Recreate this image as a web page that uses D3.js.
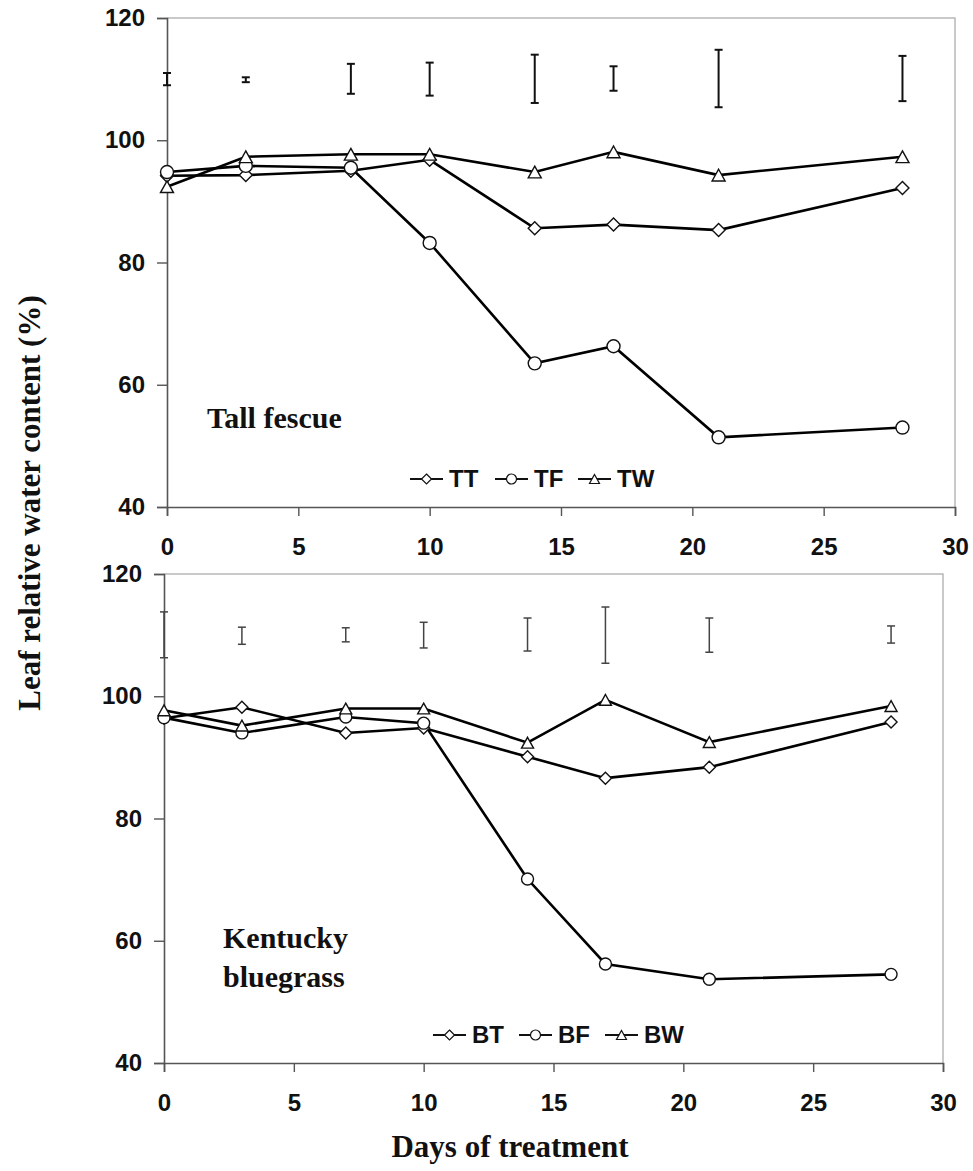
<!DOCTYPE html>
<html>
<head>
<meta charset="utf-8">
<script src="https://cdn.jsdelivr.net/npm/d3@7"></script>
<style>
  body { margin: 0; background: #fff; }
  svg { display: block; }
</style>
</head>
<body>
<div id="chart"></div>
<script>
// days of treatment
let days = [0, 3, 7, 10, 14, 17, 21, 28];

// tall fescue
let tallTT = [94.2, 94.3, 95.0, 96.8, 85.6, 86.2, 85.3, 92.2];
let tallTF = [94.8, 95.8, 95.5, 83.2, 63.5, 66.3, 51.4, 53.0];
let tallTW = [92.4, 97.3, 97.7, 97.7, 94.8, 98.1, 94.3, 97.3];
let tallErrHi = [111.0, 110.3, 112.5, 112.7, 114.0, 112.1, 114.8, 113.8];
let tallErrLo = [109.0, 109.5, 107.6, 107.3, 106.1, 108.1, 105.4, 106.4];

// kentucky bluegrass
let blueBT = [96.4, 98.2, 94.0, 94.8, 90.1, 86.6, 88.4, 95.8];
let blueBF = [96.5, 94.0, 96.6, 95.6, 70.1, 56.2, 53.7, 54.5];
let blueBW = [97.7, 95.2, 98.0, 98.0, 92.4, 99.4, 92.5, 98.4];
let blueErrHi = [113.8, 111.3, 111.2, 112.1, 112.8, 114.6, 112.8, 111.5];
let blueErrLo = [106.3, 108.5, 108.9, 107.9, 107.4, 105.4, 107.2, 108.7];

let xTicks = [0, 5, 10, 15, 20, 25, 30];
let yTicks = [40, 60, 80, 100, 120];

let width = 973, height = 1171;
let sansFont = '"Liberation Sans", Arial, sans-serif';
let serifFont = '"Liberation Serif", "Times New Roman", serif';

let svg = d3.select('#chart').append('svg')
    .attr('width', width)
    .attr('height', height);

function markerPath(shape, s) {
    if (shape == 'diamond') {
        return `M0,${-s}L${s},0L0,${s}L${-s},0Z`;
    } else if (shape == 'triangle') {
        let h = s * 1.8;
        return `M0,${-h / 2}L${s},${h / 2}L${-s},${h / 2}Z`;
    }
    return d3.symbol().type(d3.symbolCircle).size(Math.PI * s * s)();
}

function drawPanel(p) {
    let x = d3.scaleLinear().domain([0, 30]).range([p.left, p.right]);
    let y = d3.scaleLinear().domain([40, 120]).range([p.bottom, p.top]);
    let g = svg.append('g');

    // light frame top/right
    g.append('path')
        .attr('d', `M${p.left},${p.top}H${p.right}V${p.bottom}`)
        .attr('fill', 'none')
        .attr('stroke', '#b8b8b8')
        .attr('stroke-width', 1.5);

    let yAxis = g.append('g')
        .attr('transform', `translate(${p.left},0)`)
        .call(d3.axisLeft(y).tickValues(yTicks).tickSize(10).tickPadding(12));
    let xAxis = g.append('g')
        .attr('transform', `translate(0,${p.bottom})`)
        .call(d3.axisBottom(x).tickValues(xTicks).tickSize(9).tickPadding(22));
    [yAxis, xAxis].forEach(a => {
        a.select('.domain').attr('stroke', '#555').attr('stroke-width', 1.6);
        a.selectAll('.tick line').attr('stroke', '#555').attr('stroke-width', 1.4);
        a.selectAll('.tick text')
            .attr('fill', '#111')
            .style('font-family', sansFont)
            .style('font-weight', 'bold')
            .style('font-size', '24px');
    });

    // error bars
    let eb = g.selectAll('.errbar')
        .data(days.map((d, i) => [d, p.errLo[i], p.errHi[i]]))
        .enter().append('g')
        .attr('stroke', p.errColor)
        .attr('stroke-width', p.errWidth);
    eb.append('line')
        .attr('x1', d => x(d[0])).attr('x2', d => x(d[0]))
        .attr('y1', d => y(d[1])).attr('y2', d => y(d[2]));
    eb.append('line')
        .attr('x1', d => x(d[0]) - 4).attr('x2', d => x(d[0]) + 4)
        .attr('y1', d => y(d[1])).attr('y2', d => y(d[1]));
    eb.append('line')
        .attr('x1', d => x(d[0]) - 4).attr('x2', d => x(d[0]) + 4)
        .attr('y1', d => y(d[2])).attr('y2', d => y(d[2]));

    let line = d3.line().x((d, i) => x(days[i])).y(d => y(d));

    p.series.forEach(s => {
        g.append('path')
            .datum(s.values)
            .attr('d', line)
            .attr('fill', 'none')
            .attr('stroke', '#000')
            .attr('stroke-width', 2.6);
    });
    p.series.forEach(s => {
        g.selectAll('.m')
            .data(s.values)
            .enter().append('path')
            .attr('d', markerPath(s.shape, p.markerSize))
            .attr('transform', (d, i) => `translate(${x(days[i])},${y(d)})`)
            .attr('fill', '#fff')
            .attr('stroke', '#111')
            .attr('stroke-width', 1.4);
    });

    // panel label
    let lab = g.append('text')
        .attr('x', p.labelX)
        .attr('y', p.labelY)
        .style('font-family', serifFont)
        .style('font-weight', 'bold')
        .style('font-size', '30px')
        .attr('fill', '#111');
    p.label.forEach((t, i) => {
        lab.append('tspan').attr('x', p.labelX).attr('dy', i == 0 ? 0 : 39).text(t);
    });

    // legend
    let lg = g.selectAll('.legend')
        .data(p.series)
        .enter().append('g')
        .attr('transform', (d, i) => `translate(${p.legendX[i]},${p.legendY})`);
    lg.append('line')
        .attr('x1', 0).attr('x2', 33)
        .attr('y1', -8).attr('y2', -8)
        .attr('stroke', '#111')
        .attr('stroke-width', 1.8);
    lg.append('path')
        .attr('d', d => markerPath(d.shape, 5))
        .attr('transform', 'translate(16.5,-8)')
        .attr('fill', '#fff')
        .attr('stroke', '#111')
        .attr('stroke-width', 1.2);
    lg.append('text')
        .attr('x', 39)
        .attr('y', 0)
        .text(d => d.name)
        .style('font-family', sansFont)
        .style('font-weight', 'bold')
        .style('font-size', '24px')
        .attr('fill', '#111');
}

drawPanel({
    left: 167, right: 955, top: 18, bottom: 507,
    series: [
        {name: 'TT', shape: 'diamond', values: tallTT},
        {name: 'TF', shape: 'circle', values: tallTF},
        {name: 'TW', shape: 'triangle', values: tallTW}
    ],
    errLo: tallErrLo, errHi: tallErrHi, errColor: '#111', errWidth: 2,
    markerSize: 6.5,
    label: ['Tall fescue'], labelX: 207, labelY: 428,
    legendX: [410, 495, 578], legendY: 487
});

drawPanel({
    left: 164, right: 943, top: 574, bottom: 1063,
    series: [
        {name: 'BT', shape: 'diamond', values: blueBT},
        {name: 'BF', shape: 'circle', values: blueBF},
        {name: 'BW', shape: 'triangle', values: blueBW}
    ],
    errLo: blueErrLo, errHi: blueErrHi, errColor: '#444', errWidth: 1.5,
    markerSize: 6,
    label: ['Kentucky', 'bluegrass'], labelX: 223, labelY: 948,
    legendX: [433, 519, 605], legendY: 1043
});

// shared axis titles
svg.append('text')
    .attr('transform', 'translate(40,503) rotate(-90)')
    .attr('text-anchor', 'middle')
    .text('Leaf relative water content (%)')
    .style('font-family', serifFont)
    .style('font-weight', 'bold')
    .style('font-size', '31px')
    .attr('fill', '#111');

svg.append('text')
    .attr('x', 510)
    .attr('y', 1157)
    .attr('text-anchor', 'middle')
    .text('Days of treatment')
    .style('font-family', serifFont)
    .style('font-weight', 'bold')
    .style('font-size', '31px')
    .attr('fill', '#111');
</script>
</body>
</html>
